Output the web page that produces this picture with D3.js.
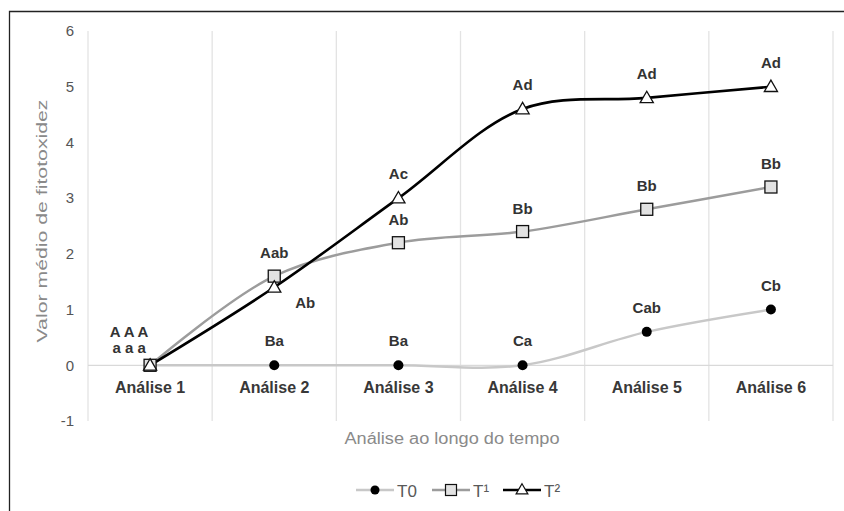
<!DOCTYPE html>
<html>
<head>
<meta charset="utf-8">
<script src="https://cdn.jsdelivr.net/npm/d3@7"></script>
<style>
  body { margin: 0; background: #fff; }
  svg { font-family: "Liberation Sans", Arial, sans-serif; }
</style>
</head>
<body>
<svg id="chart" width="844" height="511"></svg>
<script>
const categories = ['Análise 1', 'Análise 2', 'Análise 3', 'Análise 4', 'Análise 5', 'Análise 6']
const yTicks = [-1, 0, 1, 2, 3, 4, 5, 6]
const t0Values = [0, 0, 0, 0, 0.6, 1]
const t1Values = [0, 1.6, 2.2, 2.4, 2.8, 3.2]
const t2Values = [0, 1.4, 3, 4.6, 4.8, 5]
const t0Labels = ['', 'Ba', 'Ba', 'Ca', 'Cab', 'Cb']
const t1Labels = ['', 'Aab', 'Ab', 'Bb', 'Bb', 'Bb']
const t2Labels = ['', 'Ab', 'Ac', 'Ad', 'Ad', 'Ad']
const firstLabels = ['A A A', 'a a a']
const seriesNames = ['T0', 'T¹', 'T²']

const settings = {
  margin: { top: 31, left: 88, bottom: 91, right: 11 },
  width: 844,
  height: 511
}

const innerwidth = settings.width - settings.margin.left - settings.margin.right
// 6 sits at y=31, -1 at y=421
const innerheight = 390

const svg = d3.select('#chart')

// frame
svg.append('path')
  .attr('d', 'M9.5,511 L9.5,11.5 L844,11.5')
  .attr('fill', 'none')
  .attr('stroke', '#222')
  .attr('stroke-width', 1.3)

const canvas = svg.append('g')
  .attr('transform', `translate(${settings.margin.left},${settings.margin.top})`)

const xScale = d3.scaleBand().domain(categories).range([0, innerwidth])
const yScale = d3.scaleLinear().domain([-1, 6]).range([innerheight, 0])
const cx = (d, i) => xScale(categories[i]) + xScale.bandwidth() / 2

// vertical grid lines
const gridX = categories.map((c) => xScale(c)).concat([innerwidth])
canvas.selectAll('.vgrid')
  .data(gridX)
  .enter()
  .append('line')
  .attr('x1', (d) => d).attr('x2', (d) => d)
  .attr('y1', 0).attr('y2', innerheight)
  .attr('stroke', '#e3e3e3')
  .attr('stroke-width', 1.3)

// zero line
canvas.append('line')
  .attr('x1', 0).attr('x2', innerwidth)
  .attr('y1', yScale(0)).attr('y2', yScale(0))
  .attr('stroke', '#d9d9d9')
  .attr('stroke-width', 1.3)

// y axis
const yAxis = d3.axisLeft(yScale).tickValues(yTicks).tickSize(0).tickPadding(14).tickFormat(d3.format('d'))
const yAxisGroup = canvas.append('g').call(yAxis)
yAxisGroup.select('.domain').remove()
yAxisGroup.selectAll('text')
  .attr('font-size', '15px')
  .attr('fill', '#555')
  .attr('font-family', '"Liberation Sans", Arial, sans-serif')
  .text((d) => String(d).replace('−', '-'))

// x axis labels (on zero line)
const xAxis = d3.axisBottom(xScale).tickSize(0).tickPadding(16)
const xAxisGroup = canvas.append('g')
  .attr('transform', `translate(0,${yScale(0)})`)
  .call(xAxis)
xAxisGroup.select('.domain').remove()
xAxisGroup.selectAll('text')
  .attr('font-size', '16px')
  .attr('font-weight', 'bold')
  .attr('fill', '#383838')
  .attr('font-family', '"Liberation Sans", Arial, sans-serif')

// axis titles
svg.append('text')
  .attr('transform', 'rotate(-90)')
  .attr('x', -221)
  .attr('y', 47)
  .attr('text-anchor', 'middle')
  .attr('font-size', '15px')
  .attr('fill', '#8a8a8a')
  .attr('textLength', 243)
  .attr('lengthAdjust', 'spacingAndGlyphs')
  .text('Valor médio de fitotoxidez')

svg.append('text')
  .attr('x', 452)
  .attr('y', 444)
  .attr('text-anchor', 'middle')
  .attr('font-size', '16px')
  .attr('fill', '#8a8a8a')
  .attr('textLength', 215)
  .attr('lengthAdjust', 'spacingAndGlyphs')
  .text('Análise ao longo do tempo')

const line = d3.line()
  .x(cx)
  .y((d) => yScale(d))
  .curve(d3.curveCatmullRom.alpha(0.5))

const series = [
  { values: t0Values, labels: t0Labels, color: '#c8c8c8', width: 2.5 },
  { values: t1Values, labels: t1Labels, color: '#9c9c9c', width: 2.5 },
  { values: t2Values, labels: t2Labels, color: '#000', width: 2.6 }
]

series.forEach((s) => {
  canvas.append('path')
    .datum(s.values)
    .attr('d', line)
    .attr('fill', 'none')
    .attr('stroke', s.color)
    .attr('stroke-width', s.width)
})

// markers
const tri = d3.symbol().type(d3.symbolTriangle).size(75)

canvas.selectAll('.t0dot')
  .data(t0Values)
  .enter()
  .append('circle')
  .attr('cx', cx)
  .attr('cy', (d) => yScale(d))
  .attr('r', 5)
  .attr('fill', '#000')

canvas.selectAll('.t1sq')
  .data(t1Values)
  .enter()
  .append('rect')
  .attr('x', (d, i) => cx(d, i) - 6)
  .attr('y', (d) => yScale(d) - 6)
  .attr('width', 12)
  .attr('height', 12)
  .attr('fill', '#e2e2e2')
  .attr('stroke', '#111')
  .attr('stroke-width', 1.3)

canvas.selectAll('.t2tri')
  .data(t2Values)
  .enter()
  .append('path')
  .attr('d', tri)
  .attr('transform', (d, i) => `translate(${cx(d, i)},${yScale(d) + 1})`)
  .attr('fill', '#fff')
  .attr('stroke', '#111')
  .attr('stroke-width', 1.3)

// data labels
const labelDy = [-19, -18, -19]
series.forEach((s, k) => {
  canvas.selectAll('.lbl' + k)
    .data(s.values)
    .enter()
    .append('text')
    .attr('x', (d, i) => cx(d, i) + (k === 2 && i === 1 ? 31 : 0))
    .attr('y', (d, i) => yScale(d) + (k === 2 && i === 1 ? 21 : labelDy[k]))
    .attr('text-anchor', 'middle')
    .attr('font-size', '15px')
    .attr('font-weight', 'bold')
    .attr('fill', '#333')
    .text((d, i) => s.labels[i])
})

canvas.selectAll('.first')
  .data(firstLabels)
  .enter()
  .append('text')
  .attr('x', cx(0, 0) - 21)
  .attr('y', (d, i) => yScale(0) - 28 + i * 16)
  .attr('text-anchor', 'middle')
  .attr('font-size', '15px')
  .attr('font-weight', 'bold')
  .attr('fill', '#333')
  .text((d) => d)

// legend
const legendX = [356, 432, 503]
const legend = svg.append('g').attr('transform', 'translate(0,490)')
seriesNames.forEach((name, k) => {
  const g = legend.append('g').attr('transform', `translate(${legendX[k]},0)`)
  g.append('line')
    .attr('x1', 0).attr('x2', 38)
    .attr('stroke', series[k].color)
    .attr('stroke-width', series[k].width)
  if (k === 0) {
    g.append('circle').attr('cx', 19).attr('r', 4.5).attr('fill', '#000')
  } else if (k === 1) {
    g.append('rect').attr('x', 13.5).attr('y', -5.5).attr('width', 11).attr('height', 11)
      .attr('fill', '#e2e2e2').attr('stroke', '#111').attr('stroke-width', 1.2)
  } else {
    g.append('path').attr('d', d3.symbol().type(d3.symbolTriangle).size(60))
      .attr('transform', 'translate(19,0.5)')
      .attr('fill', '#fff').attr('stroke', '#111').attr('stroke-width', 1.2)
  }
  g.append('text')
    .attr('x', 41)
    .attr('y', 7)
    .attr('font-size', '17px')
    .attr('fill', '#595959')
    .text(name)
})
</script>
</body>
</html>
